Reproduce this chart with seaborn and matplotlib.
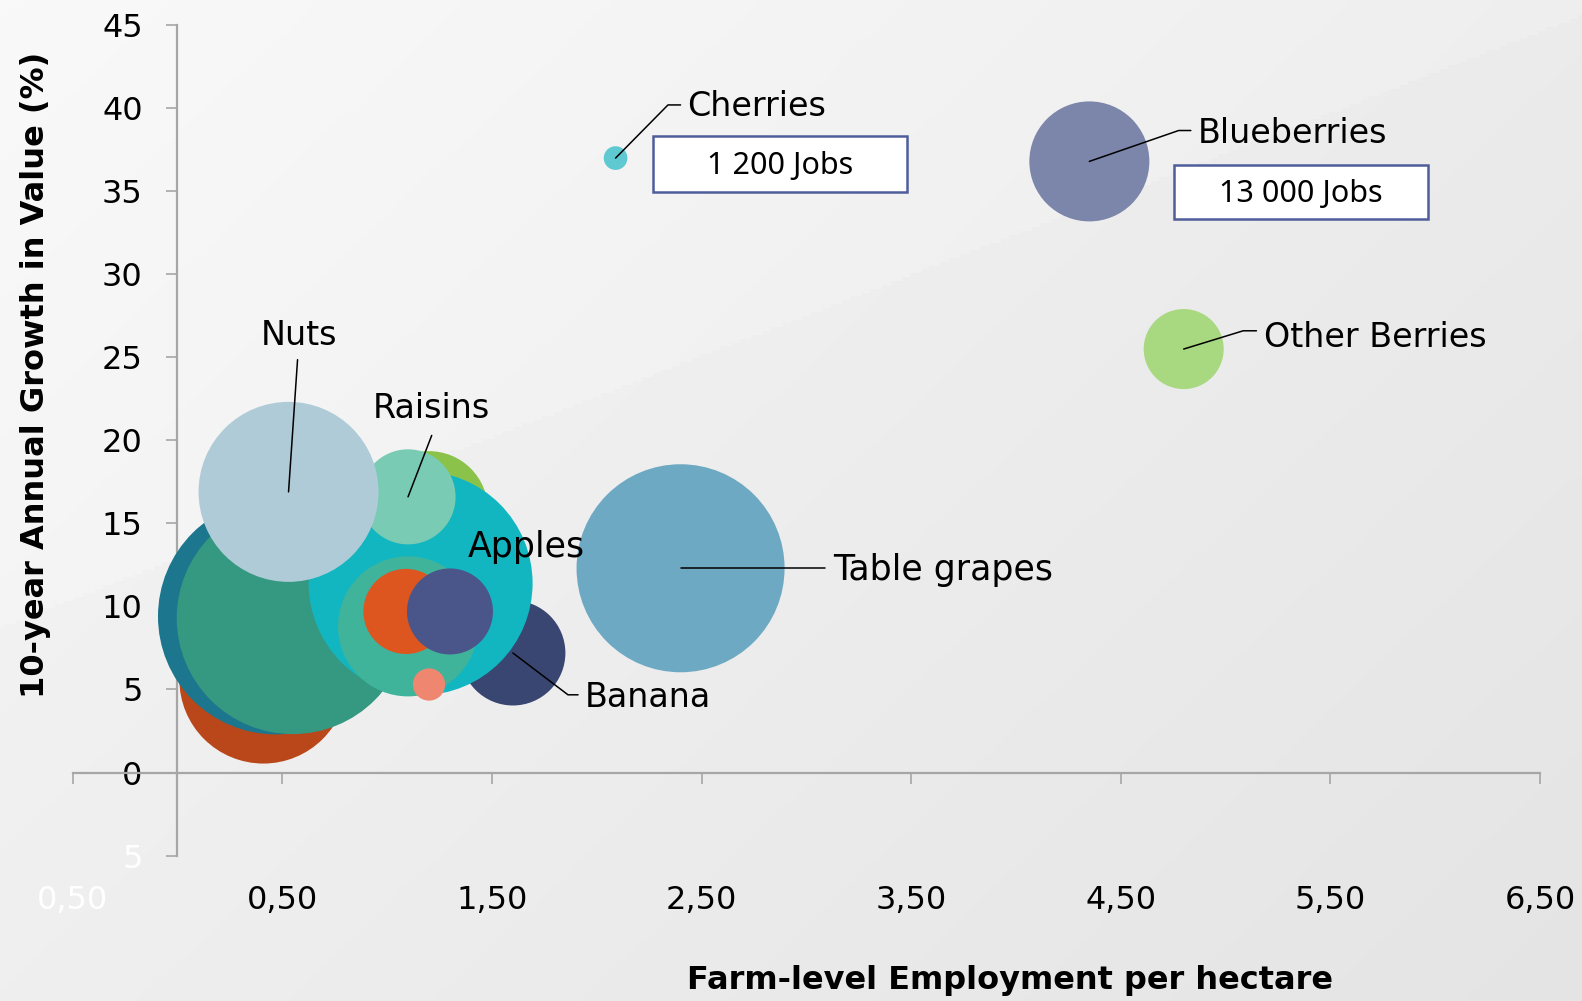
import numpy as np
import pandas as pd
import matplotlib
matplotlib.use("Agg")
import matplotlib.pyplot as plt
import seaborn as sns
from matplotlib.patches import Rectangle

# ---------------- data ----------------
names = ["Unlabelled 1", "Unlabelled 2", "Unlabelled 3", "Unlabelled 4", "Banana",
         "Apples", "Raisins", "Nuts", "Unlabelled 5", "Unlabelled 6", "Unlabelled 7",
         "Unlabelled 8", "Table grapes", "Cherries", "Blueberries", "Other Berries"]
employment = [0.41, 0.47, 0.55, 1.20, 1.60, 1.16, 1.10, 0.53, 1.10, 1.09, 1.30,
              1.20, 2.40, 2.09, 4.35, 4.80]
growth = [5.6, 9.4, 9.3, 15.8, 7.2, 11.4, 16.6, 16.9, 8.8, 9.7, 9.7,
          5.3, 12.3, 37.0, 36.8, 25.5]
bubble_size = [70.6, 139.2, 134.6, 34.8, 27.6, 125.4, 22.6, 81.0, 49.0, 18.1, 18.5,
               2.6, 108.2, 1.4, 36.0, 16.0]
colors = ["#b9471a", "#1b768e", "#359880", "#8bc34a", "#3a4672", "#12b6c1", "#7acbb4",
          "#afcbd7", "#40b39b", "#dd5620", "#4a5689", "#ef8670", "#6ea9c3", "#5ec9d1",
          "#7b86aa", "#a8d87f"]
x_ticks = [-0.5, 0.5, 1.5, 2.5, 3.5, 4.5, 5.5, 6.5]
x_tick_labels = ["0,50", "0,50", "1,50", "2,50", "3,50", "4,50", "5,50", "6,50"]
y_ticks = [-5, 0, 5, 10, 15, 20, 25, 30, 35, 40, 45]
y_tick_labels = ["5", "0", "5", "10", "15", "20", "25", "30", "35", "40", "45"]
jobs_labels = {"Cherries": "1 200 Jobs", "Blueberries": "13 000 Jobs"}

df = pd.DataFrame({"crop": names, "employment": employment, "growth": growth,
                   "size": bubble_size})

# ---------------- figure ----------------
sns.set_theme(style="white")
plt.rcParams["font.family"] = ["DejaVu Sans"]
plt.rcParams["text.color"] = "black"

W, H = 15.82, 10.01
fig = plt.figure(figsize=(W, H), dpi=100)

# background gradient with lighter wedge
bg = fig.add_axes([0, 0, 1, 1], zorder=-10)
bg.set_axis_off()
nx, ny = 400, 260
xx, yy = np.meshgrid(np.linspace(0, 1582, nx), np.linspace(0, 1001, ny))
t = (xx / 1582 * 0.6 + yy / 1001 * 0.4)
base = 0.965 - 0.07 * t
yline = 240 - 0.387 * (xx - 1000)
base = base + np.where(yy < yline, 0.012, 0.0)
base = np.clip(base, 0, 1)
bg.imshow(np.dstack([base, base, base]), extent=[0, 1, 0, 1], aspect="auto",
          origin="upper")
bg.set_xlim(0, 1); bg.set_ylim(0, 1)

ax = fig.add_axes([0.0459, 0.1453, 0.9276, 0.8295])
ax.set_facecolor("none")

max_val = max(bubble_size)
k = 207.36
sns.scatterplot(data=df, x="employment", y="growth", hue="crop",
                palette=dict(zip(names, colors)), size="size",
                sizes=(0, max_val * k), size_norm=(0, max_val),
                linewidth=0, alpha=1, legend=False, ax=ax, zorder=3)

ax.set_xlim(-0.5, 6.5)
ax.set_ylim(-5, 45)
ax.set_xlabel("")
ax.set_ylabel("")

for side in ["top", "right"]:
    ax.spines[side].set_visible(False)
ax.spines["left"].set_position(("data", 0))
ax.spines["bottom"].set_position(("data", 0))
for side in ["left", "bottom"]:
    ax.spines[side].set_color("#a6a6a6")
    ax.spines[side].set_linewidth(1.6)
    ax.spines[side].set_zorder(1)

ax.set_xticks(x_ticks)
ax.set_xticklabels(x_tick_labels)
ax.set_yticks(y_ticks)
ax.set_yticklabels(y_tick_labels)
ax.tick_params(axis="x", bottom=True, direction="out", length=8, width=1.2,
               color="#a6a6a6", pad=73, labelsize=23, labelcolor="black")
ax.tick_params(axis="y", left=True, direction="out", length=8, width=1.2,
               color="#a6a6a6", pad=17, labelsize=23, labelcolor="black")
ax.get_xticklabels()[0].set_color("white")
ax.get_yticklabels()[0].set_color("white")

# ---------------- annotations ----------------
def pos(name):
    i = names.index(name)
    return employment[i], growth[i]

lab_kw = dict(fontsize=24, color="black", zorder=6)
lw = 1.1

# Cherries
cx, cy = pos("Cherries")
ax.plot([cx, 2.34, 2.40], [cy, 40.2, 40.2], color="black", lw=lw, zorder=5)
ax.text(2.43, 40.1, "Cherries", ha="left", va="center", **lab_kw)
# Blueberries
bx, by = pos("Blueberries")
ax.plot([bx, 4.776, 4.834], [by, 38.66, 38.66], color="black", lw=lw, zorder=5)
ax.text(4.868, 38.5, "Blueberries", ha="left", va="center", **lab_kw)
# Other Berries
ox, oy = pos("Other Berries")
ax.plot([ox, 5.084, 5.147], [oy, 26.6, 26.6], color="black", lw=lw, zorder=5)
ax.text(5.185, 26.2, "Other Berries", ha="left", va="center", **lab_kw)
# Table grapes
tx, ty = pos("Table grapes")
ax.plot([tx, 3.091], [ty, ty], color="black", lw=lw, zorder=5)
ax.text(3.13, ty - 0.1, "Table grapes", ha="left", va="center", fontsize=25,
        color="black", zorder=6)
# Nuts
nx_, ny_ = pos("Nuts")
ax.plot([nx_, 0.573], [ny_, 24.86], color="black", lw=lw, zorder=5)
ax.text(0.578, 26.3, "Nuts", ha="center", va="center", **lab_kw)
# Raisins
rx, ry = pos("Raisins")
ax.plot([rx, 1.213], [ry, 20.3], color="black", lw=lw, zorder=5)
ax.text(1.213, 21.9, "Raisins", ha="center", va="center", **lab_kw)
# Apples
ax.text(1.666, 13.6, "Apples", ha="center", va="center", fontsize=25,
        color="black", zorder=6)
# Banana
bnx, bny = pos("Banana")
ax.plot([bnx, 1.863, 1.911], [bny, 4.68, 4.68], color="black", lw=lw, zorder=5)
ax.text(1.945, 4.5, "Banana", ha="left", va="center", **lab_kw)

# Jobs boxes
boxes = {"Cherries": (2.268, 34.95, 1.213, 3.35),
         "Blueberries": (4.752, 33.31, 1.213, 3.29)}
for nm, (x0, y0, w, h) in boxes.items():
    ax.add_patch(Rectangle((x0, y0), w, h, facecolor="white", edgecolor="#4f5d9a",
                           linewidth=1.8, zorder=6))
    ax.text(x0 + w / 2, y0 + h / 2 - 0.1, jobs_labels[nm], ha="center", va="center",
            fontsize=22, family=["Noto Sans", "DejaVu Sans"], color="black", zorder=7)

# axis titles
fig.text(0.0223, 0.625, "10-year Annual Growth in Value (%)", rotation=90,
         ha="center", va="center", fontsize=23, fontweight="bold", color="black")
fig.text(0.6385, 0.02, "Farm-level Employment per hectare", ha="center",
         va="center", fontsize=23, fontweight="bold", color="black")

fig.savefig("out.png", dpi=100)
